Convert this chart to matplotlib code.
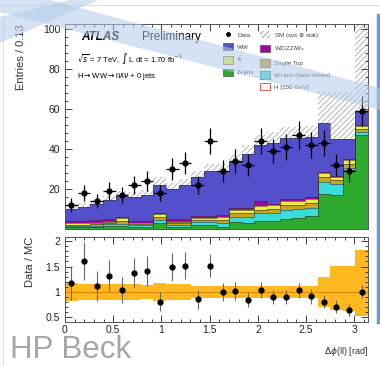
import numpy as np
import matplotlib
matplotlib.use("Agg")
import matplotlib.pyplot as plt
from matplotlib.patches import Polygon, Patch
from matplotlib.lines import Line2D
from matplotlib.ticker import MultipleLocator

plt.rcParams['font.family'] = ['Liberation Sans', 'DejaVu Sans']
plt.rcParams['hatch.linewidth'] = 0.6

# 24 bins in delta phi(ll), width pi/24
nbins = 24
edges = np.linspace(0, np.pi, nbins + 1)
centers = 0.5 * (edges[1:] + edges[:-1])

data = [12, 18, 14, 19, 17, 22, 24, 18, 30, 33, 22, 44,
        29, 34, 32, 44, 39, 41, 47, 42, 43, 32, 29, 59]

# stacked backgrounds, bottom to top
zjets = [1.0, 1.0, 1.2, 1.5, 1.5, 1.2, 1.2, 3.2, 1.2, 1.2, 1.8, 1.8,
         1.2, 3.5, 3.0, 4.2, 4.0, 5.0, 5.5, 6.5, 17.5, 17.0, 29.5, 47.0]
wjets = [0.5, 0.5, 0.5, 1.0, 0.8, 0.6, 0.6, 1.1, 0.8, 0.8, 1.5, 1.5,
         2.0, 2.5, 3.0, 3.6, 4.0, 4.5, 4.5, 4.0, 6.0, 5.5, 0.8, 1.5]
stop = [0.5, 0.5, 0.6, 0.5, 1.5, 0.6, 0.6, 1.5, 0.8, 0.8, 1.2, 1.2,
        1.5, 2.0, 2.0, 1.8, 2.0, 2.5, 2.0, 2.5, 2.5, 2.0, 2.0, 1.5]
ttbar = [0.8, 0.8, 0.8, 0.6, 1.8, 0.6, 0.6, 1.5, 0.8, 0.8, 1.2, 1.2,
         1.5, 1.5, 1.5, 1.7, 1.8, 2.0, 2.0, 2.0, 1.8, 1.5, 2.0, 1.5]
diboson = [1.2, 1.2, 1.3, 1.2, 0.5, 1.0, 1.0, 0.8, 1.2, 1.2, 0.8, 0.8,
           0.8, 0.8, 0.8, 2.5, 0.8, 0.8, 0.8, 0.8, 0.5, 0.5, 0.5, 0.5]
ww = [6.2, 7.2, 8.2, 9.6, 10.3, 12.0, 13.0, 14.1, 15.4, 17.0, 19.3, 22.5,
      22.0, 23.2, 27.3, 28.2, 30.6, 30.7, 30.8, 30.2, 24.9, 18.5, 10.2, 6.6]

# relative SM uncertainty (up / down)
unc_up = [0.17, 0.16, 0.15, 0.15, 0.15, 0.15, 0.14, 0.17, 0.15, 0.15, 0.12, 0.12,
          0.12, 0.12, 0.12, 0.12, 0.12, 0.12, 0.12, 0.12, 0.30, 0.52, 0.52, 0.82]
unc_dn = [0.17, 0.16, 0.15, 0.15, 0.15, 0.15, 0.14, 0.17, 0.15, 0.15, 0.12, 0.12,
          0.12, 0.12, 0.12, 0.12, 0.12, 0.12, 0.12, 0.12, 0.30, 0.36, 0.38, 0.47]

stack = [(zjets, '#2eaa2e', 'Z+jets'),
         (wjets, '#38dcd8', 'W+jets (data driven)'),
         (stop, '#c9a51c', 'Single Top'),
         (ttbar, '#eeee40', r't$\bar{\rm t}$'),
         (diboson, '#a0089c', r'WZ/ZZ/W$\gamma$'),
         (ww, '#5450cc', 'WW')]

fig = plt.figure(figsize=(3.8, 3.66), dpi=100)
W, H = 380.0, 366.0


def rect(l, t, r, b):
    return [l / W, 1 - b / H, (r - l) / W, (b - t) / H]


ax = fig.add_axes(rect(65, 24, 368, 229))
rax = fig.add_axes(rect(65, 237, 368, 322))

mc = np.zeros(nbins)
for vals, col, lab in stack:
    mc += np.array(vals)

# SM uncertainty hatch
ax.stairs(mc * (1 + np.array(unc_up)), edges, baseline=mc * (1 - np.array(unc_dn)),
          fill=True, facecolor='white', edgecolor='#a8a8a8', hatch='//////',
          linewidth=0, zorder=1)

base = np.zeros(nbins)
for vals, col, lab in stack:
    top = base + np.array(vals)
    ax.stairs(top, edges, baseline=base, fill=True, facecolor=col,
              edgecolor='none', zorder=2)
    ax.stairs(top, edges, baseline=None, color='#333333', lw=0.4, zorder=2.5)
    base = top

data = np.array(data, dtype=float)
ax.errorbar(centers, data, yerr=np.sqrt(data), xerr=(edges[1] - edges[0]) / 2,
            fmt='o', color='black', ms=3.5, elinewidth=0.9, capsize=0, zorder=5)

ax.set_xlim(0, np.pi)
ax.set_ylim(0, 102.5)
ax.set_yticks([20, 40, 60, 80, 100])
ax.yaxis.set_minor_locator(MultipleLocator(4))
ax.xaxis.set_major_locator(MultipleLocator(0.5))
ax.xaxis.set_minor_locator(MultipleLocator(0.1))
ax.tick_params(axis='x', labelbottom=False)
for a in (ax, rax):
    a.tick_params(which='both', direction='in', top=True, right=True,
                  labelsize=7.5, colors='#222222', width=0.6)
    a.tick_params(which='major', length=5)
    a.tick_params(which='minor', length=2.5)
    for s in a.spines.values():
        s.set_linewidth(0.7)
        s.set_color('#555555')

ax.set_ylabel('Entries / 0.13', fontsize=8, color='#333333', loc='top', labelpad=12)

ax.text(0.053, 0.937, 'ATLAS', transform=ax.transAxes, fontsize=8.5,
        fontweight='bold', fontstyle='italic', va='center', zorder=6)
ax.text(0.255, 0.937, 'Preliminary', transform=ax.transAxes, fontsize=8.5,
        va='center', zorder=6)
ax.text(0.04, 0.834, r'$\sqrt{s}$ = 7 TeV, $\int$ L dt = 1.70 fb$^{-1}$',
        transform=ax.transAxes, fontsize=5.5, va='center', zorder=6)
ax.text(0.04, 0.746, r'H$\rightarrow$WW$\rightarrow$l$\nu$l$\nu$ + 0 jets',
        transform=ax.transAxes, fontsize=5.5, va='center', zorder=6)

handles = [Line2D([], [], marker='o', color='black', ls='none', ms=2.5),
           Patch(facecolor='#5450cc', edgecolor='#333333', lw=0.4),
           Patch(facecolor='#eeee40', edgecolor='#333333', lw=0.4),
           Patch(facecolor='#2eaa2e', edgecolor='#333333', lw=0.4),
           Patch(facecolor='none', edgecolor='none'),
           Patch(facecolor='white', edgecolor='#8888cc', hatch='//////', lw=0),
           Patch(facecolor='#a0089c', edgecolor='#333333', lw=0.4),
           Patch(facecolor='#c9a51c', edgecolor='#333333', lw=0.4),
           Patch(facecolor='#38dcd8', edgecolor='#333333', lw=0.4),
           Patch(facecolor='white', edgecolor='#dd4444', lw=0.6)]
labels = ['Data', 'WW', r't$\bar{\rm t}$', 'Z+jets', '',
          r'SM (sys $\oplus$ stat)', r'WZ/ZZ/W$_\gamma$', 'Single Top',
          'W+jets (data driven)', 'H [150 GeV]']
ax.legend(handles, labels, ncol=2, loc='upper left', bbox_to_anchor=(0.51, 0.985),
          fontsize=4.5, frameon=False, handlelength=1.6, handleheight=1.4,
          labelspacing=0.75, columnspacing=0.9, handletextpad=0.6,
          borderaxespad=0.2, labelcolor='#444444')

# ratio panel
ratio = data / mc
rerr = np.sqrt(data) / mc
rax.stairs(1 + np.array(unc_up), edges, baseline=1 - np.array(unc_dn), fill=True,
           facecolor='#ffb820', edgecolor='none', zorder=1)
rax.axhline(1, color='#e08a00', lw=0.9, zorder=2)
rax.errorbar(centers, ratio, yerr=rerr, fmt='o', color='black', ms=3.5,
             ecolor='#666666', elinewidth=0.8, capsize=0, zorder=5)
rax.set_xlim(0, np.pi)
rax.set_ylim(0.41, 2.08)
rax.set_yticks([0.5, 1, 1.5, 2])
rax.set_yticklabels(['0.5', '1', '1.5', '2'])
rax.set_xticks([0, 0.5, 1, 1.5, 2, 2.5, 3])
rax.set_xticklabels(['0', '0.5', '1', '1.5', '2', '2.5', '3'])
rax.xaxis.set_minor_locator(MultipleLocator(0.1))
rax.yaxis.set_minor_locator(MultipleLocator(0.1))
rax.tick_params(axis='x', pad=2)
rax.set_ylabel('Data / MC', fontsize=8, color='#333333', loc='top', labelpad=8)
fig.text(368 / W, 1 - 351 / H, r'$\Delta\phi$(ll) [rad]', fontsize=6.5,
         ha='right', va='center', color='#333333')

# slide decoration
fig.text(10 / W, 1 - 358 / H, 'HP Beck', fontsize=22.5, color='#a6a6a6',
         ha='left', va='baseline')
fig.add_artist(Line2D([0, 1], [1 - 5 / H, 1 - 5 / H], color='#dddddd', lw=0.8))
fig.add_artist(Line2D([3 / W, 3 / W], [0, 1 - 10 / H], color='#e4e4e4', lw=0.8))
fig.add_artist(Line2D([378 / W, 378 / W], [1 - 322 / H, 1 - 15 / H],
                      color='#6f9ccc', lw=2.5))


def band(pts):
    return Polygon([(x / W, 1 - y / H) for x, y in pts], closed=True,
                   transform=fig.transFigure, facecolor='#b4cbea', alpha=0.55,
                   edgecolor='none', zorder=10)


fig.add_artist(band([(0, 0), (50, 0), (380, 88), (380, 110), (0, 12)]))
fig.add_artist(band([(70, 0), (98, 0), (0, 43), (0, 17)]))

fig.savefig('out.png', dpi=100)
